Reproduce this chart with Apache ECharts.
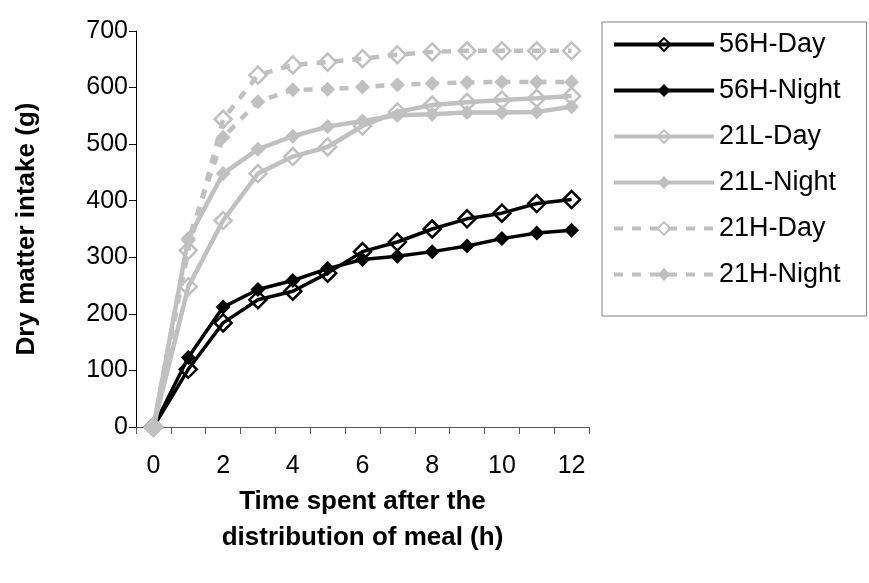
<!DOCTYPE html>
<html>
<head>
<meta charset="utf-8">
<script src="https://cdn.jsdelivr.net/npm/echarts@6/dist/echarts.min.js"></script>
<style>
html,body{margin:0;padding:0;background:#fff;}
#chart{width:869px;height:583px;}
</style>
</head>
<body>
<div id="chart"></div>
<script>
var hours = ['0','1','2','3','4','5','6','7','8','9','10','11','12'];
var s56HDay   = [0, 102, 184, 225, 240, 272, 310, 327, 350, 368, 378, 395, 402];
var s56HNight = [0, 123, 212, 243, 259, 280, 296, 302, 310, 320, 333, 343, 348];
var s21LDay   = [0, 248, 365, 448, 478, 495, 532, 557, 569, 574, 578, 581, 585];
var s21LNight = [0, 333, 448, 491, 514, 531, 541, 551, 553, 556, 556, 557, 566];
var s21HDay   = [0, 312, 544, 622, 640, 645, 651, 658, 663, 665, 665, 665, 665];
var s21HNight = [0, 330, 512, 575, 596, 597, 601, 605, 607, 609, 610, 610, 610];
var names = ['56H-Day','56H-Night','21L-Day','21L-Night','21H-Day','21H-Night'];

var FONT = '"Liberation Sans", Arial, sans-serif';
var BLACK = '#000000';
var GRAY = '#c0c0c0';

function mk(name, data, color, width, dashed, open) {
  return {
    name: name,
    type: 'line',
    data: data,
    symbol: 'diamond',
    symbolSize: open ? 17 : 15,
    showAllSymbol: true,
    lineStyle: {color: color, width: width, type: dashed ? [9, 9] : 'solid', cap: 'butt'},
    itemStyle: open ? {color: 'rgba(255,255,255,0)', borderColor: color, borderWidth: 2.5}
                    : {color: color, borderWidth: 0},
    emphasis: {disabled: true},
    animation: false
  };
}

var chart = echarts.init(document.getElementById('chart'));
chart.setOption({
  animation: false,
  textStyle: {fontFamily: FONT},
  grid: {left: 136, top: 31, width: 453, height: 396, containLabel: false},
  xAxis: {
    type: 'category',
    data: hours,
    boundaryGap: true,
    name: 'Time spent after the\ndistribution of meal (h)',
    nameLocation: 'middle',
    nameGap: 57,
    nameTextStyle: {fontFamily: FONT, fontSize: 26, fontWeight: 'bold', color: '#000', lineHeight: 36},
    axisLine: {lineStyle: {color: '#555', width: 1}},
    axisTick: {show: true, interval: 0, length: 7, inside: false, lineStyle: {color: '#555'}},
    axisLabel: {interval: 1, fontFamily: FONT, fontSize: 25, color: '#000', margin: 27},
    splitLine: {show: false}
  },
  yAxis: {
    type: 'value',
    min: 0, max: 700, interval: 100,
    name: 'Dry matter intake (g)',
    nameLocation: 'middle',
    nameGap: 96,
    nameRotate: 90,
    nameTextStyle: {fontFamily: FONT, fontSize: 26, fontWeight: 'bold', color: '#000'},
    axisLine: {show: true, lineStyle: {color: '#000', width: 1}},
    axisTick: {show: true, length: 7, inside: false, lineStyle: {color: '#000'}},
    axisLabel: {fontFamily: FONT, fontSize: 25, color: '#000', margin: 8},
    splitLine: {show: false}
  },
  legend: {
    orient: 'vertical',
    left: 602,
    top: 22,
    data: names,
    itemWidth: 100,
    itemHeight: 16,
    itemGap: 19,
    padding: [9, 26, 28, 10],
    borderColor: '#808080',
    borderWidth: 1,
    lineStyle: {width: 4},
    textStyle: {fontFamily: FONT, fontSize: 27, color: '#000', lineHeight: 26, padding: [0,0,0,0]},
    selectedMode: false
  },
  series: [
    mk('56H-Day', s56HDay, BLACK, 3.5, false, true),
    mk('56H-Night', s56HNight, BLACK, 3.5, false, false),
    mk('21L-Day', s21LDay, GRAY, 4.5, false, true),
    mk('21L-Night', s21LNight, GRAY, 4.5, false, false),
    mk('21H-Day', s21HDay, GRAY, 4.5, true, true),
    mk('21H-Night', s21HNight, GRAY, 4.5, true, false)
  ]
});
</script>
</body>
</html>
